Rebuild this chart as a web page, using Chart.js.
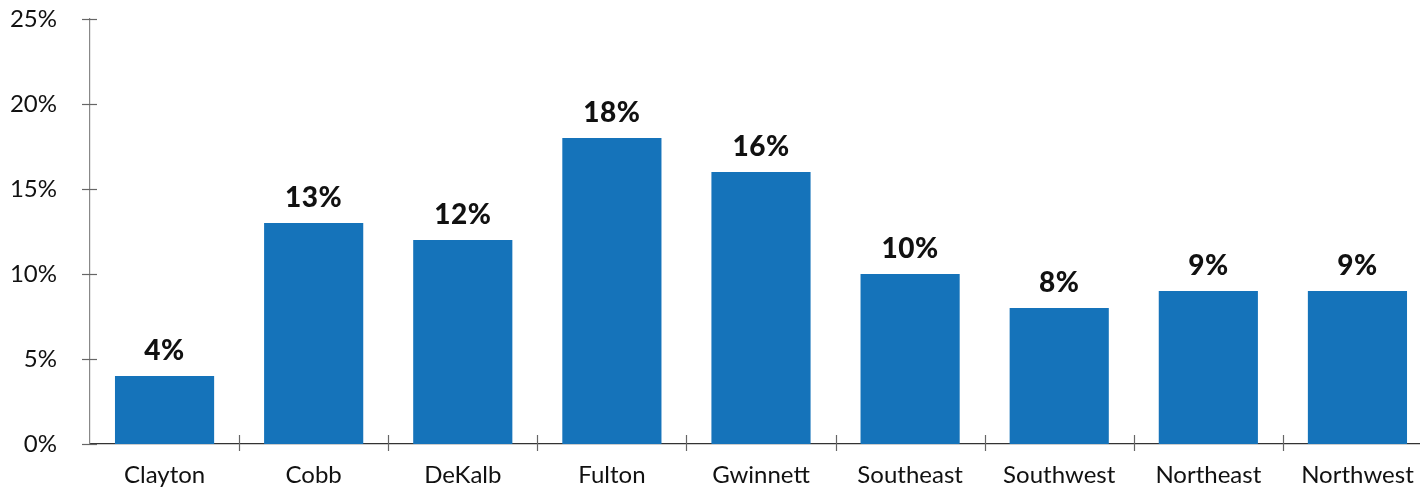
<!DOCTYPE html>
<html>
<head>
<meta charset="utf-8">
<script src="https://cdn.jsdelivr.net/npm/chart.js@4"></script>
<style>
  html, body { margin: 0; padding: 0; background: #fff; overflow: hidden; }
  #wrap { width: 1432px; height: 488px; }
  canvas { display: block; }
</style>
</head>
<body>
<div id="wrap"><canvas id="chart" width="1432" height="488"></canvas></div>
<script>
// Share of residents by area (percent)
const areas = ['Clayton', 'Cobb', 'DeKalb', 'Fulton', 'Gwinnett', 'Southeast', 'Southwest', 'Northeast', 'Northwest'];
const shares = [4, 13, 12, 18, 16, 10, 8, 9, 9];
const yTicks = [0, 5, 10, 15, 20, 25];

const FONT = 'Lato, "Open Sans", sans-serif';
const BAR_COLOR = '#1573ba';

// Slightly wider letter spacing for all axis text
const spacing = {
  id: 'spacing',
  beforeInit(chart) { chart.ctx.letterSpacing = '0.8px'; }
};

// Crossing tick marks on both axes, plus value labels above each bar
const decorations = {
  id: 'decorations',
  afterDatasetsDraw(chart) {
    const ctx = chart.ctx;
    const x = chart.scales.x, y = chart.scales.y;
    const area = chart.chartArea;
    ctx.save();
    ctx.lineWidth = 1.2;
    ctx.strokeStyle = '#666';
    yTicks.forEach(v => {
      const py = Math.round(y.getPixelForValue(v)) + 0.5;
      ctx.beginPath();
      ctx.moveTo(area.left - 8, py);
      ctx.lineTo(area.left + 7, py);
      ctx.stroke();
    });
    for (let i = 1; i < areas.length; i++) {
      const px = Math.round((x.getPixelForValue(i - 1) + x.getPixelForValue(i)) / 2) + 0.5;
      ctx.beginPath();
      ctx.moveTo(px, area.bottom - 9);
      ctx.lineTo(px, area.bottom + 7);
      ctx.stroke();
    }
    // value labels
    const meta = chart.getDatasetMeta(0);
    ctx.fillStyle = '#111';
    ctx.letterSpacing = '0.5px';
    ctx.font = '900 28px ' + FONT;
    ctx.textAlign = 'center';
    ctx.textBaseline = 'alphabetic';
    meta.data.forEach((bar, i) => {
      ctx.fillText(shares[i] + '%', bar.x, bar.y - 16);
    });
    ctx.restore();
  }
};

new Chart(document.getElementById('chart'), {
  type: 'bar',
  data: {
    labels: areas,
    datasets: [{
      data: shares,
      backgroundColor: BAR_COLOR,
      borderWidth: 0,
      barPercentage: 0.665,
      categoryPercentage: 1
    }]
  },
  options: {
    responsive: false,
    animation: false,
    layout: { padding: { top: 19, left: 0, right: 0, bottom: 0 } },
    plugins: { legend: { display: false }, tooltip: { enabled: false } },
    scales: {
      x: {
        afterFit(s) { s.height = 44; s.paddingLeft = 0; s.paddingRight = 0; },
        grid: { display: false, drawTicks: false },
        border: { display: true, color: '#333', width: 1.2 },
        ticks: { color: '#111', font: { family: FONT, size: 24 }, padding: 17, maxRotation: 0 }
      },
      y: {
        min: 0, max: 25,
        afterFit(s) { s.width = 90; s.paddingTop = 0; s.paddingBottom = 0; },
        afterBuildTicks(s) { s.ticks = yTicks.map(v => ({ value: v })); },
        grid: { display: false, drawTicks: false },
        border: { display: true, color: '#888', width: 1.2 },
        ticks: {
          color: '#111', font: { family: FONT, size: 24 }, padding: 33,
          callback: v => v + '%'
        }
      }
    }
  },
  plugins: [spacing, decorations]
});
</script>
</body>
</html>
